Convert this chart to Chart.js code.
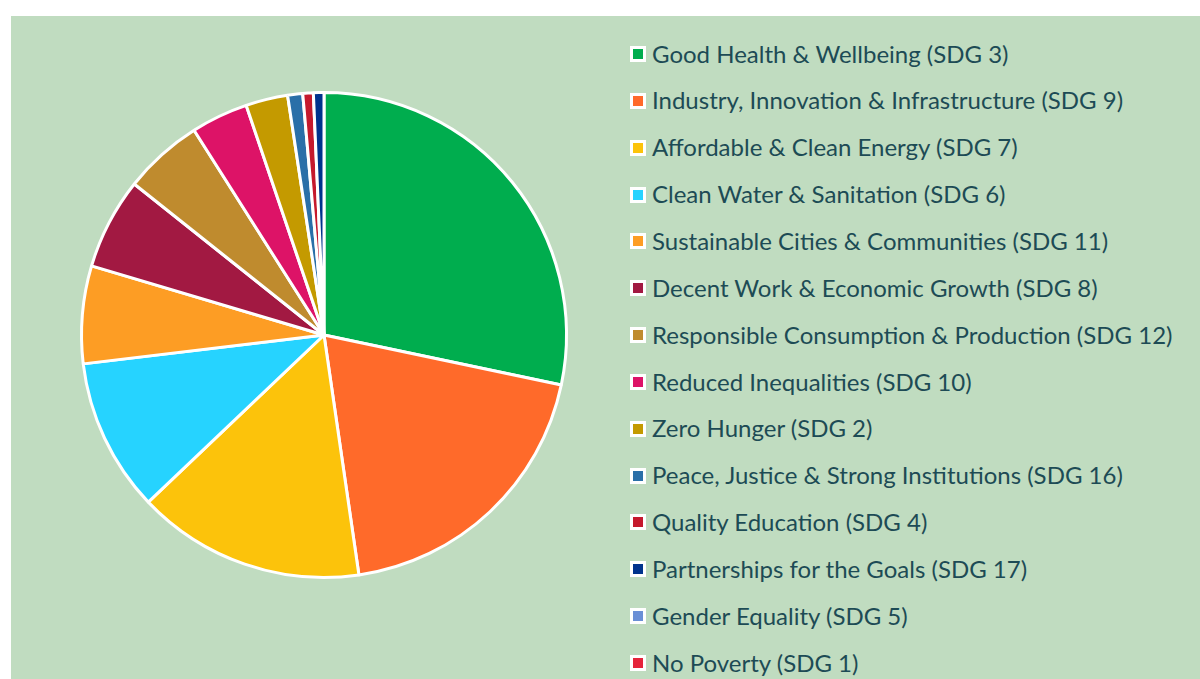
<!DOCTYPE html>
<html>
<head>
<meta charset="utf-8">
<script src="https://cdn.jsdelivr.net/npm/chart.js@4.4.1/dist/chart.umd.min.js"></script>
<style>
  html, body { margin: 0; padding: 0; background: #ffffff; }
  #wrap {
    position: absolute; left: 11px; top: 16px;
    width: 1189px; height: 663px;
    overflow: hidden; background: #c0dcc0;
  }
  #sdgChart { position: absolute; left: 0; top: 0; display: block; }
  #legend {
    position: absolute; left: 619px; top: 14.6px;
    margin: 0; padding: 0; list-style: none;
    font-family: Lato, sans-serif; font-size: 24px; color: #1d4b55;
    white-space: nowrap;
  }
  #legend li { height: 46.85px; line-height: 46.85px; display: flex; align-items: center; }
  #legend .box {
    display: inline-block; width: 10px; height: 10px;
    border: 3px solid #ffffff; margin-right: 6px; flex: none;
  }
</style>
</head>
<body>
<div id="wrap">
  <canvas id="sdgChart" width="600" height="663"></canvas>
  <ul id="legend"></ul>
</div>
<script>
// SDG share of the portfolio (percent)
const labels = [
  'Good Health & Wellbeing (SDG 3)',
  'Industry, Innovation & Infrastructure (SDG 9)',
  'Affordable & Clean Energy (SDG 7)',
  'Clean Water & Sanitation (SDG 6)',
  'Sustainable Cities & Communities (SDG 11)',
  'Decent Work & Economic Growth (SDG 8)',
  'Responsible Consumption & Production (SDG 12)',
  'Reduced Inequalities (SDG 10)',
  'Zero Hunger (SDG 2)',
  'Peace, Justice & Strong Institutions (SDG 16)',
  'Quality Education (SDG 4)',
  'Partnerships for the Goals (SDG 17)',
  'Gender Equality (SDG 5)',
  'No Poverty (SDG 1)'
];
const values = [28.3, 19.4, 15.2, 10.2, 6.5, 6.1, 5.3, 3.8, 2.8, 1.0, 0.7, 0.7, 0, 0];
const colors = [
  '#00ad4e', '#ff6a2a', '#fcc30b', '#26d3ff', '#fd9d24', '#a21942', '#bf8b2e',
  '#dd1367', '#c49a00', '#2a6fa8', '#c5192d', '#00338d', '#6a8fd6', '#e5243b'
];

const ctx = document.getElementById('sdgChart').getContext('2d');
const chart = new Chart(ctx, {
    type: 'pie',
    data: {
        labels: labels,
        datasets: [{
            data: values,
            backgroundColor: colors,
            borderColor: '#ffffff',
            borderWidth: 3,
            hoverOffset: 0
        }]
    },
    options: {
        responsive: false,
        animation: false,
        layout: {
            padding: { left: 69, right: 43, top: 75, bottom: 100 }
        },
        plugins: {
            tooltip: { enabled: false },
            legend: { display: false } // drawn as html below, the native one won't fit 14 rows
        }
    }
});

// legend list built from the chart's own labels and colours
const ul = document.getElementById('legend');
chart.data.labels.forEach((text, idx) => {
    const li = document.createElement('li');
    const box = document.createElement('span');
    box.className = 'box';
    box.style.background = chart.data.datasets[0].backgroundColor[idx];
    li.appendChild(box);
    li.appendChild(document.createTextNode(text));
    ul.appendChild(li);
});
</script>
</body>
</html>
